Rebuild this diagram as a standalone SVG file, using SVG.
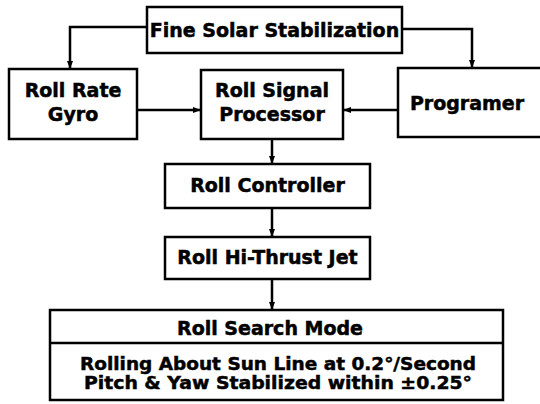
<svg xmlns="http://www.w3.org/2000/svg" width="540" height="404" viewBox="0 0 540 404">
<defs>
<style>
.box{fill:#fff;stroke:#000;stroke-width:2.5}
.t{font-family:"DejaVu Sans","Liberation Sans",sans-serif;font-weight:bold;font-size:19px;fill:#000;stroke:#000;stroke-width:0.5;text-anchor:middle}
.s{font-size:18px}
.c{fill:none;stroke:#000;stroke-width:2.5}
</style>
<marker id="ah" markerWidth="8" markerHeight="6" refX="7" refY="3" orient="auto" markerUnits="userSpaceOnUse">
<path d="M0,0 L8,3 L0,6 Z" fill="#000"/>
</marker>
</defs>
<rect width="540" height="404" fill="#fff"/>
<g id="connectors">
<path class="c" d="M147,27 H70 V68" marker-end="url(#ah)"/>
<path class="c" d="M402,29 H472 V67" marker-end="url(#ah)"/>
<path class="c" d="M137,110 H200" marker-end="url(#ah)"/>
<path class="c" d="M398,110 H344" marker-end="url(#ah)"/>
<path class="c" d="M272,139 V163" marker-end="url(#ah)"/>
<path class="c" d="M272,208 V236" marker-end="url(#ah)"/>
<path class="c" d="M272,279 V309" marker-end="url(#ah)"/>
</g>
<g id="fine-solar">
<rect class="box" x="147" y="7" width="255" height="46"/>
<text class="t" x="274.5" y="37">Fine Solar Stabilization</text>
</g>
<g id="roll-rate-gyro">
<rect class="box" x="9" y="69" width="128" height="70"/>
<text class="t" x="73" y="97">Roll Rate</text>
<text class="t" x="73" y="121">Gyro</text>
</g>
<g id="roll-signal-processor">
<rect class="box" x="201" y="70" width="142" height="69"/>
<text class="t" x="272" y="97">Roll Signal</text>
<text class="t" x="272" y="121">Processor</text>
</g>
<g id="programer">
<rect class="box" x="398" y="68" width="150" height="69"/>
<text class="t" x="467" y="110">Programer</text>
</g>
<g id="roll-controller">
<rect class="box" x="165" y="164" width="205" height="44"/>
<text class="t" x="267.5" y="192">Roll Controller</text>
</g>
<g id="roll-hi-thrust-jet">
<rect class="box" x="165" y="237" width="205" height="42"/>
<text class="t" x="267.5" y="264">Roll Hi-Thrust Jet</text>
</g>
<g id="roll-search-mode">
<rect class="box" x="50" y="310" width="453" height="90"/>
<line x1="50" y1="343" x2="503" y2="343" stroke="#000" stroke-width="2.5"/>
<text class="t" x="270" y="335">Roll Search Mode</text>
<text class="t s" x="278" y="370" textLength="396" lengthAdjust="spacingAndGlyphs">Rolling About Sun Line at 0.2°/Second</text>
<text class="t s" x="278" y="389" textLength="388" lengthAdjust="spacingAndGlyphs">Pitch &amp; Yaw Stabilized within ±0.25°</text>
</g>
</svg>
